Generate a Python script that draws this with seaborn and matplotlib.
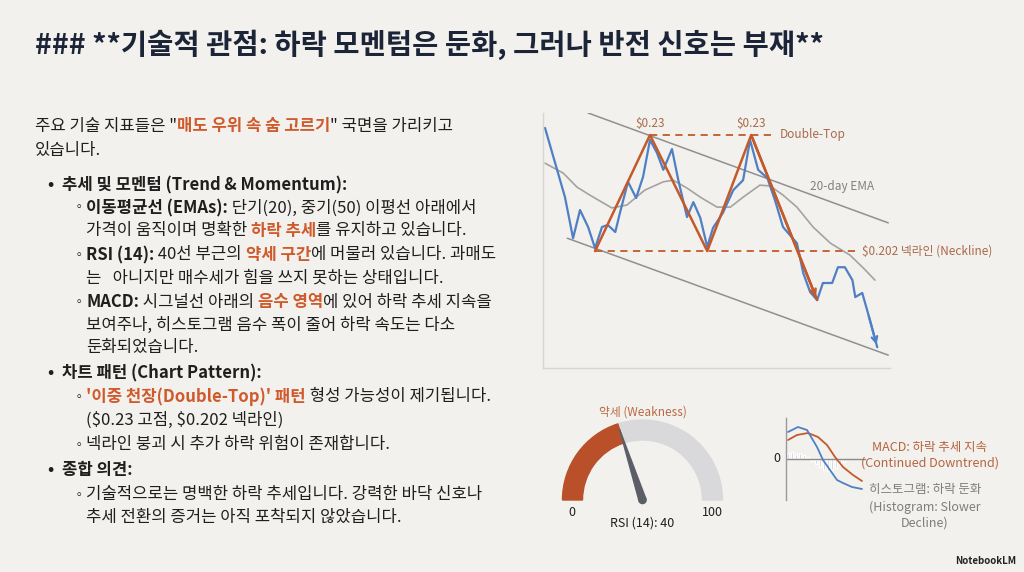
import numpy as np
import matplotlib
matplotlib.use("Agg")
import matplotlib.pyplot as plt
from matplotlib.patches import Wedge, Polygon, Circle
import seaborn as sns

# ---- data -------------------------------------------------------------
price_day = [0.35, 3.8, 5.2, 6.4, 7.8, 9.0, 10.2, 11.2, 12.5, 13.3, 14.7, 16.1, 17.3, 18.5,
             19.7, 20.8, 22.3, 23.4, 24.9, 26.0, 27.2, 28.4, 29.4, 31.1, 32.9, 34.6, 35.8,
             37.2, 38.8, 40.1, 41.5, 43.9, 45.0, 46.2, 47.4, 48.4, 50.0, 51.0, 52.2, 53.5,
             54.0, 55.2, 56.2, 57.8]
price_val = [0.2317, 0.2150, 0.2051, 0.2119, 0.2078, 0.2027, 0.2078, 0.2083, 0.2066, 0.2112,
             0.2187, 0.2148, 0.2199, 0.2288, 0.2257, 0.2216, 0.2266, 0.2191, 0.2102, 0.2138,
             0.2100, 0.2030, 0.2076, 0.2112, 0.2167, 0.2191, 0.2288, 0.2216, 0.2196, 0.2143,
             0.2078, 0.2039, 0.1967, 0.1921, 0.1902, 0.1943, 0.1943, 0.1981, 0.1981, 0.1950,
             0.1909, 0.1919, 0.1870, 0.1788]

ema_day = [0.35, 3.5, 5.9, 8.1, 11.9, 14.5, 17.6, 20.8, 22.5, 24.9, 27.2, 30.1, 32.4, 34.6,
           37.5, 39.3, 41.5, 43.9, 46.7, 49.7, 53.1, 55.4, 57.4]
ema_val = [0.2232, 0.2208, 0.2174, 0.2155, 0.2124, 0.2131, 0.2167, 0.2187, 0.2191, 0.2172,
           0.2150, 0.2126, 0.2126, 0.2150, 0.2179, 0.2177, 0.2155, 0.2126, 0.2078, 0.2039,
           0.2010, 0.1979, 0.1950]

pattern_day = [9.0, 18.5, 28.4, 36.0, 47.4]
pattern_val = [0.2020, 0.2300, 0.2020, 0.2300, 0.1902]

upper_day, upper_val = [7.8, 59.7], [0.2353, 0.2088]
lower_day, lower_val = [4.2, 59.7], [0.2051, 0.1769]

top_level, top_span = 0.230, (18.5, 40.1)
neck_level, neck_span = 0.202, (9.0, 54.8)

rsi_value = 40

macd_day = [0.5, 3.0, 5.25, 7.75, 9.25, 11.0, 12.75, 14.25, 16.5, 19.0]
macd_val = [2.7, 3.2, 2.9, 1.2, -0.1, -1.1, -2.1, -2.4, -2.8, -3.0]
signal_day = [0.5, 2.75, 5.5, 8.0, 10.25, 12.25, 14.25, 16.75, 19.0]
signal_val = [1.9, 2.4, 2.6, 2.2, 1.4, 0.2, -0.8, -1.6, -2.2]
hist_day = [0.5, 1.5, 2.5, 3.5, 4.5, 5.5, 6.5, 7.5, 8.5, 9.5, 10.5, 11.5, 12.5, 13.5, 14.5]
hist_val = [0.6, 0.7, 0.5, 0.6, 0.4, 0.2, -0.2, -0.5, -0.8, -1.1, -1.2, -1.1, -0.9, -0.6, -0.3]

# ---- style ------------------------------------------------------------
BG = "#f2f1ed"
INK = "#1f1f1f"
HL = "#cf5a2c"
ORANGE = "#c25a2c"
BROWN = "#a9694a"
BLUE = "#4f7fc4"
GREY = "#909090"

sns.set_theme(style="white")
plt.rcParams["font.family"] = ["Noto Sans CJK KR", "DejaVu Sans"]

W, H = 1024, 572
fig = plt.figure(figsize=(W / 100, H / 100), dpi=100, facecolor=BG)
renderer = fig.canvas.get_renderer()


def fx(px):
    return px / W


def fy(py):
    return 1 - py / H


def rich_line(x, y, segments, size=12):
    """segments: (text, bold, color) 를 이어서 그림"""
    pos = fx(x)
    for text, bold, color in segments:
        t = fig.text(pos, fy(y), text, fontsize=size, color=color, parse_math=False,
                     fontweight="bold" if bold else "normal", va="center", ha="left")
        pos += t.get_window_extent(renderer).width / W


# title
fig.text(fx(35), fy(45), "### **기술적 관점: 하락 모멘텀은 둔화, 그러나 반전 신호는 부재**",
         fontsize=20.5, fontweight="bold", color="#1c2438", va="center")

# body text
X0, XB, XT, XS, XST = 35, 47, 62, 73, 86
N = lambda s: (s, False, INK)
B = lambda s: (s, True, INK)
O = lambda s: (s, True, HL)
rich_line(X0, 126, [N('주요 기술 지표들은 "'), O("매도 우위 속 숨 고르기"), N('" 국면을 가리키고')])
rich_line(X0, 150, [N("있습니다.")])
rich_line(XB, 185, [B("•")])
rich_line(XT, 185, [B("추세 및 모멘텀 (Trend & Momentum):")])
rich_line(XS, 208, [N("◦")], size=9)
rich_line(XST, 208, [B("이동평균선 (EMAs):"), N(" 단기(20), 중기(50) 이평선 아래에서")])
rich_line(XST, 231, [N("가격이 움직이며 명확한 "), O("하락 추세"), N("를 유지하고 있습니다.")])
rich_line(XS, 255, [N("◦")], size=9)
rich_line(XST, 255, [B("RSI (14):"), N(" 40선 부근의 "), O("약세 구간"), N("에 머물러 있습니다. 과매도")])
rich_line(XST, 278, [N("는   아니지만 매수세가 힘을 쓰지 못하는 상태입니다.")])
rich_line(XS, 302, [N("◦")], size=9)
rich_line(XST, 302, [B("MACD:"), N(" 시그널선 아래의 "), O("음수 영역"), N("에 있어 하락 추세 지속을")])
rich_line(XST, 325, [N("보여주나, 히스토그램 음수 폭이 줄어 하락 속도는 다소")])
rich_line(XST, 347, [N("둔화되었습니다.")])
rich_line(XB, 373, [B("•")])
rich_line(XT, 373, [B("차트 패턴 (Chart Pattern):")])
rich_line(XS, 397, [N("◦")], size=9)
rich_line(XST, 397, [O("'이중 천장(Double-Top)' 패턴"), N(" 형성 가능성이 제기됩니다.")])
rich_line(XST, 420, [N("($0.23 고점, $0.202 넥라인)")])
rich_line(XS, 445, [N("◦")], size=9)
rich_line(XST, 445, [N("넥라인 붕괴 시 추가 하락 위험이 존재합니다.")])
rich_line(XB, 470, [B("•")])
rich_line(XT, 470, [B("종합 의견:")])
rich_line(XS, 495, [N("◦")], size=9)
rich_line(XST, 495, [N("기술적으로는 명백한 하락 추세입니다. 강력한 바닥 신호나")])
rich_line(XST, 517, [N("추세 전환의 증거는 아직 포착되지 않았습니다.")])

# ---- price chart ------------------------------------------------------
ax = fig.add_axes([fx(543), fy(368), (890 - 543) / W, (368 - 113) / H])
ax.set_facecolor(BG)
sns.lineplot(x=upper_day, y=upper_val, ax=ax, color=GREY, lw=1.1, sort=False)
sns.lineplot(x=lower_day, y=lower_val, ax=ax, color=GREY, lw=1.1, sort=False)
sns.lineplot(x=ema_day, y=ema_val, ax=ax, color="#a3a3a3", lw=1.2, sort=False)
ax.hlines(top_level, *top_span, color=ORANGE, lw=1.3, linestyles=(0, (4, 3)))
ax.hlines(neck_level, *neck_span, color=ORANGE, lw=1.3, linestyles=(0, (4, 3)))
sns.lineplot(x=price_day, y=price_val, ax=ax, color=BLUE, lw=1.6, sort=False)
ax.annotate("", xy=(price_day[-1], price_val[-1]), xytext=(price_day[-2], price_val[-2]),
            arrowprops=dict(arrowstyle="->", color=BLUE, lw=1.6, mutation_scale=10))
sns.lineplot(x=pattern_day, y=pattern_val, ax=ax, color=ORANGE, lw=1.8, sort=False)
ax.annotate("", xy=(pattern_day[-1], pattern_val[-1]), xytext=(pattern_day[-2], pattern_val[-2]),
            arrowprops=dict(arrowstyle="->", color=ORANGE, lw=1.8, mutation_scale=10))
for d in (pattern_day[1], pattern_day[3]):
    ax.text(d, top_level + 0.0012, "$0.23", ha="center", va="bottom", fontsize=8.5,
            color=BROWN, parse_math=False)
ax.text(top_span[1] + 0.8, top_level, "Double-Top", ha="left", va="center", fontsize=8.5, color=BROWN)
ax.text(neck_span[1] + 0.4, neck_level, "$0.202 넥라인 (Neckline)", ha="left", va="center",
        fontsize=8.5, color=BROWN, clip_on=False, parse_math=False)
ax.text(46.2, 0.2175, "20-day EMA", ha="left", va="center", fontsize=8.5, color="#808080")
ax.set_xlim(0, 60)
ax.set_ylim(0.1738, 0.2353)
ax.set(xticks=[], yticks=[], xlabel="", ylabel="")
for s in ("top", "right"):
    ax.spines[s].set_visible(False)
for s in ("left", "bottom"):
    ax.spines[s].set_color("#d6d6d6")
    ax.spines[s].set_linewidth(1.0)

# ---- RSI gauge --------------------------------------------------------
gx0, gx1, gy0, gy1 = 555, 730, 400, 535
cx, cy, R = 642.5, 500, 80
axg = fig.add_axes([fx(gx0), fy(gy1), (gx1 - gx0) / W, (gy1 - gy0) / H])
axg.set_xlim((gx0 - cx) / R, (gx1 - cx) / R)
axg.set_ylim((cy - gy1) / R, (cy - gy0) / R)
axg.axis("off")
theta = 180 - rsi_value / 100 * 180
axg.add_patch(Wedge((0, 0), 1.0, 0, theta, width=0.25, color="#d9d9db"))
axg.add_patch(Wedge((0, 0), 1.0, theta, 180, width=0.25, color="#b9502a"))
t = np.deg2rad(theta)
tip = (0.93 * np.cos(t), 0.93 * np.sin(t))
perp = (-np.sin(t) * 0.045, np.cos(t) * 0.045)
axg.add_patch(Polygon([tip, (perp[0], perp[1]), (-perp[0], -perp[1])], closed=True, color="#5b5e66"))
axg.add_patch(Circle((0, 0), 0.045, color="#5b5e66"))
axg.text(-0.88, -0.16, "0", ha="center", va="center", fontsize=9, color=INK)
axg.text(0.87, -0.16, "100", ha="center", va="center", fontsize=9, color=INK)
axg.text(0, -0.29, f"RSI (14): {rsi_value}", ha="center", va="center", fontsize=9, color=INK)
axg.text(0, 1.1, "약세 (Weakness)", ha="center", va="center", fontsize=8.5, color="#b86a45")

# ---- MACD mini chart --------------------------------------------------
axm = fig.add_axes([fx(786), fy(500), (866 - 786) / W, (500 - 418) / H])
axm.set_facecolor(BG)
axm.bar(hist_day, hist_val, width=0.7, color="#c3c6cc")
axm.axhline(0, color="#8a8a8a", lw=1.0)
sns.lineplot(x=signal_day, y=signal_val, ax=axm, color=ORANGE, lw=1.3, sort=False)
sns.lineplot(x=macd_day, y=macd_val, ax=axm, color=BLUE, lw=1.3, sort=False)
axm.set_xlim(0, 20)
axm.set_ylim(-4.1, 4.1)
axm.set(xticks=[], yticks=[], xlabel="", ylabel="")
for s in ("top", "right", "bottom"):
    axm.spines[s].set_visible(False)
axm.spines["left"].set_color("#9a9a9a")
axm.spines["left"].set_linewidth(1.0)
fig.text(fx(777), fy(459), "0", ha="center", va="center", fontsize=9, color=INK)
fig.text(fx(930), fy(447), "MACD: 하락 추세 지속", ha="center", va="center", fontsize=9, color="#b5643f")
fig.text(fx(930), fy(463), "(Continued Downtrend)", ha="center", va="center", fontsize=9, color="#b5643f")
for yy, s in zip((490, 507, 523), ("히스토그램: 하락 둔화", "(Histogram: Slower", "Decline)")):
    fig.text(fx(925), fy(yy), s, ha="center", va="center", fontsize=9, color="#7d7d7d")

fig.text(fx(1016), fy(561), "NotebookLM", ha="right", va="center", fontsize=7,
         fontweight="bold", color="#222222")

fig.savefig("out.png", dpi=100, facecolor=BG)
